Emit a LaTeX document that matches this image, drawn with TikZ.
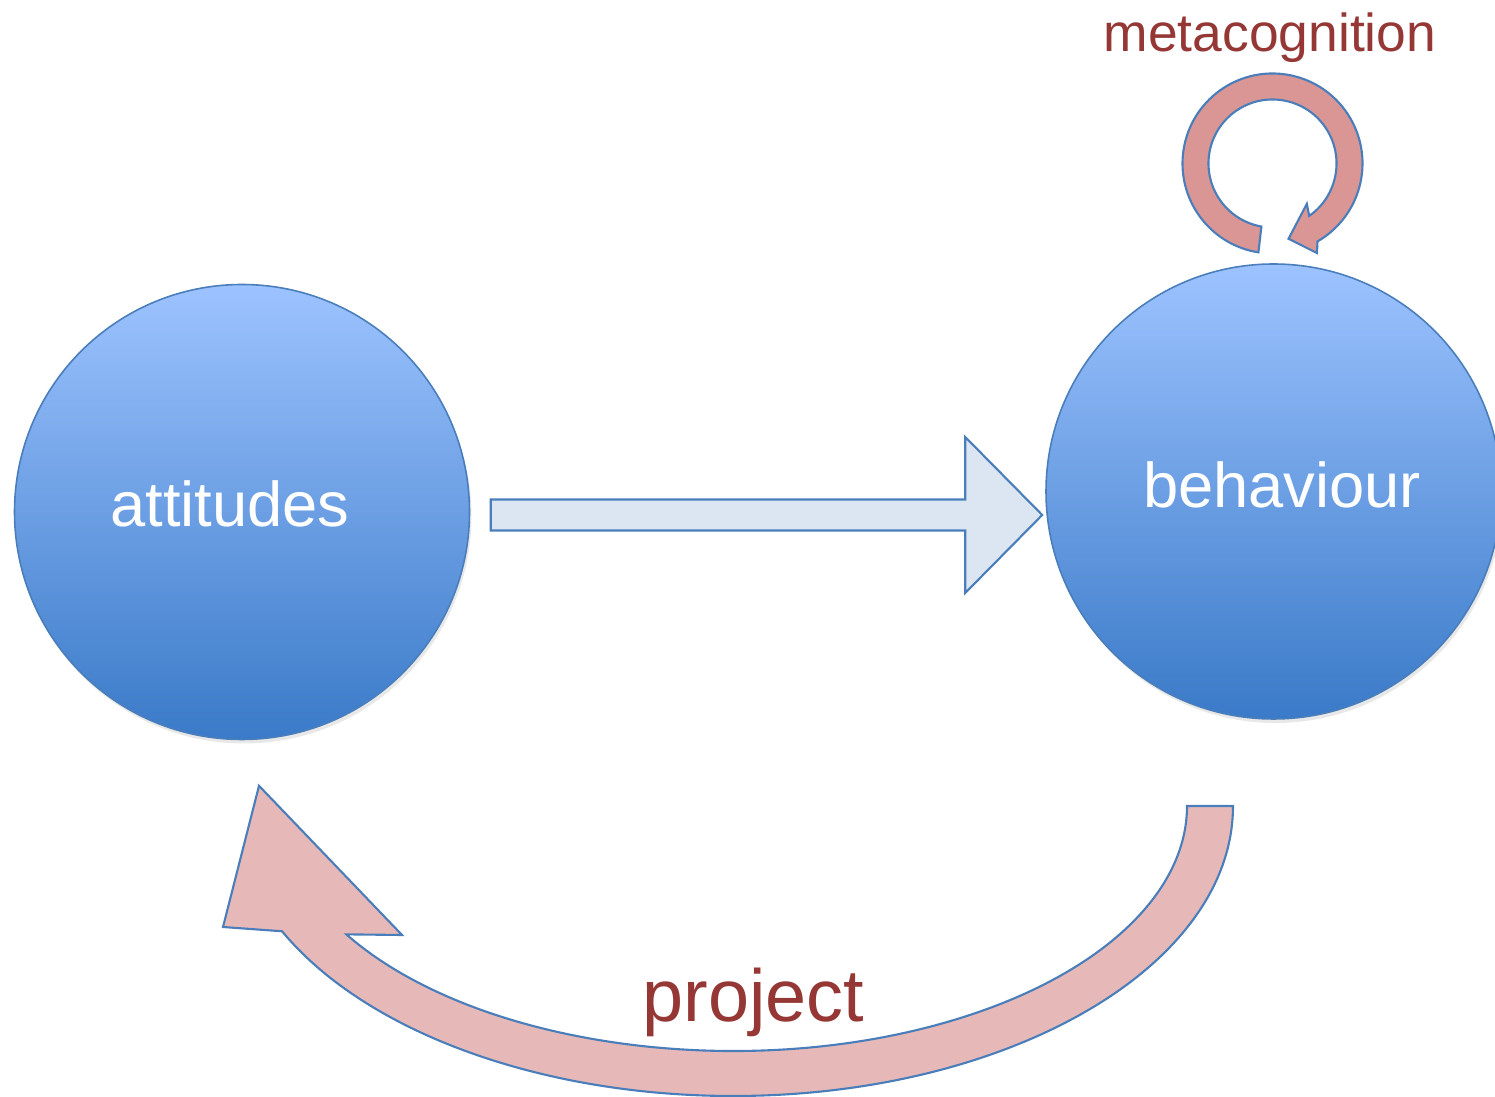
\documentclass[tikz,border=0pt]{standalone}
\usepackage{fontspec}
\setmainfont{Liberation Sans}
\usepackage{xcolor}
\usepackage{tikz}
\usetikzlibrary{positioning,calc,shadows}
\definecolor{disctop}{RGB}{157,195,255}
\definecolor{discbot}{RGB}{58,122,200}
\definecolor{edgeblue}{RGB}{74,126,187}
\definecolor{paleblue}{RGB}{220,230,242}
\definecolor{looprose}{RGB}{217,150,148}
\definecolor{projrose}{RGB}{230,185,184}
\definecolor{wine}{RGB}{149,55,53}
\tikzstyle{disc} = [circle, draw=edgeblue, line width=0.45pt, top color=disctop, bottom color=discbot, minimum size=4.55cm, inner sep=0pt, drop shadow={opacity=0.18, shadow xshift=0.02, shadow yshift=-0.04}]
\tikzstyle{disclabel} = [anchor=base, text=white, inner sep=0pt, font=\fontsize{18}{22}\selectfont]
\tikzstyle{note} = [anchor=base, text=wine, inner sep=0pt]
\tikzstyle{blockarrow} = [draw=edgeblue, line width=0.6pt, line join=miter]

\begin{document}
\begin{tikzpicture}
    \useasboundingbox (0,0) rectangle (14.95,10.97);

    \node[disc] (att) at (2.42,5.85) {};
    \node[disc] (beh) at (12.735,6.055) {};
    \node[disclabel] (attl) at (2.30,5.70) {attitudes};
    \node[disclabel] (behl) at (12.82,5.89) {behaviour};

    % straight arrow between the two discs
    \coordinate (h0) at ($(att.east)+(0.205,-0.03)$);
    \coordinate (h1) at ($(beh.west)+(-0.03,-0.235)$);
    \draw[blockarrow, fill=paleblue] ($(h0)+(0,0.155)$) -- ($(h1)+(-0.77,0.155)$) -- ($(h1)+(-0.77,0.78)$)
        -- (h1) -- ($(h1)+(-0.77,-0.78)$) -- ($(h1)+(-0.77,-0.155)$) -- ($(h0)+(0,-0.155)$) -- cycle;

    % loop over behaviour
    \coordinate (lc) at ($(beh)+(-0.01,3.28)$);
    \draw[blockarrow, fill=looprose] ($(lc)+(261:0.90)$) arc[start angle=261, end angle=-60, radius=0.90]
        -- ($(lc)+(-63.6:1.00)$) -- ($(lc)+(-78:0.77)$) -- ($(lc)+(-49.6:0.53)$)
        -- ($(lc)+(-55:0.64)$) arc[start angle=-55, end angle=260, radius=0.64] -- cycle;
    \node[note, font=\fontsize{15.2}{18}\selectfont] (meta) at (12.70,10.45) {metacognition};

    % curved arrow back from behaviour to attitudes
    \coordinate (pc) at (7.33,2.91);
    \coordinate (tip) at ($(att.south)+(0.17,-0.455)$);
    \draw[blockarrow, fill=projrose] ($(pc)+(5.0,0)$) arc[start angle=0, end angle=-154.4, x radius=5.0, y radius=2.90]
        -- (2.23,1.70) -- (tip) -- (4.02,1.62)
        -- ($(pc)+(-148.4:4.54 and 2.45)$) arc[start angle=-148.4, end angle=0, x radius=4.54, y radius=2.45] -- cycle;
    \node[note, font=\fontsize{21}{25}\selectfont] (proj) at (7.535,0.75) {project};
\end{tikzpicture}
\end{document}
